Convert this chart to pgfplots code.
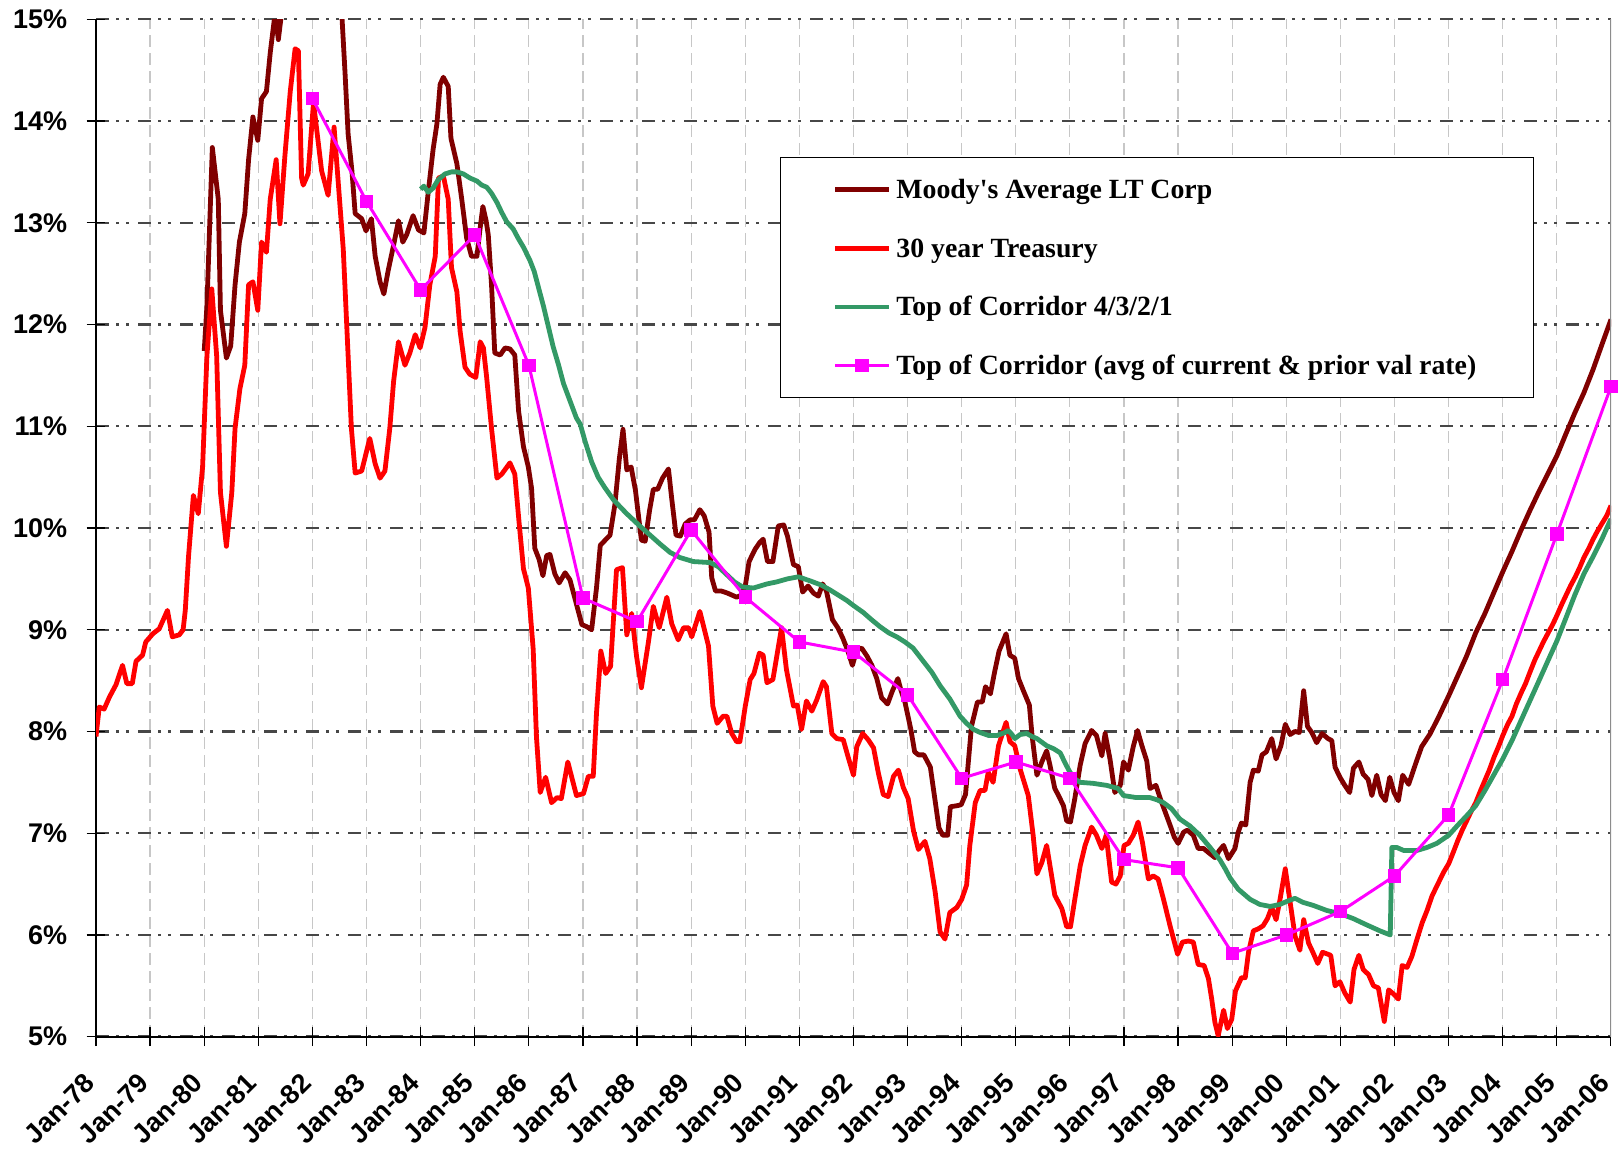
\documentclass[border=0pt]{standalone}
\usepackage{fontspec}
\setmainfont{Liberation Sans}
\newfontfamily\tnr{Liberation Serif}
\usepackage{pgfplots}
\pgfplotsset{compat=1.18}
\definecolor{moody}{RGB}{128,0,0}
\definecolor{treas}{RGB}{255,0,0}
\definecolor{corr}{RGB}{51,153,102}
\definecolor{mag}{RGB}{255,0,255}
\begin{document}
\begin{tikzpicture}
\path[use as bounding box] (-48pt,-56.15pt) rectangle (763.5pt,518.35pt);
\begin{axis}[
  at={(0pt,0pt)}, anchor=south west,
  width=757.5pt, height=508.7pt, scale only axis,
  xmin=1978, xmax=2006, ymin=5, ymax=15,
  axis x line*=bottom, axis y line*=left,
  axis line style={black, line width=1.1pt},
  xtick={1978,...,2006},
  xticklabels={Jan-78,Jan-79,Jan-80,Jan-81,Jan-82,Jan-83,Jan-84,Jan-85,Jan-86,Jan-87,Jan-88,Jan-89,Jan-90,Jan-91,Jan-92,Jan-93,Jan-94,Jan-95,Jan-96,Jan-97,Jan-98,Jan-99,Jan-00,Jan-01,Jan-02,Jan-03,Jan-04,Jan-05,Jan-06},
  ytick={5,...,15},
  yticklabels={5\%,6\%,7\%,8\%,9\%,10\%,11\%,12\%,13\%,14\%,15\%},
  tick align=center, major tick length=9.5pt,
  tick style={black, line width=0.6pt},
  tick label style={font=\bfseries\fontsize{13.5}{16}\selectfont},
  /pgf/number format/assume math mode=true,
  yticklabel style={anchor=east, inner sep=0pt, xshift=-9.5pt},
  xticklabel style={xshift=-3pt, yshift=-16pt, rotate=45, anchor=east, inner sep=0pt},
  grid=major,
  major x grid style={color=black!22, line width=0.6pt, dash pattern=on 6pt off 3pt},
  major y grid style={color=black!72, line width=1.2pt, dash pattern=on 6.5pt off 3.5pt on 1.5pt off 3.5pt on 1.5pt off 4.5pt},
  legend style={at={(0.4515,0.8647)}, anchor=north west, draw=black, line width=0.6pt, fill=white,
    inner xsep=26pt, inner ysep=9.5pt, row sep=16.1pt,
    font=\tnr\bfseries\fontsize{13.9}{16}\selectfont,
    nodes={inner xsep=2.5pt, inner ysep=0pt, text height=11pt, text depth=2.2pt}},
  legend cell align=left,
  legend image code/.code={\draw[mark repeat=2,mark phase=2,#1] plot coordinates {(0pt,0pt) (13.5pt,0pt) (27pt,0pt)};},
]
\addplot[moody, line width=2.4pt, line join=round] coordinates {
(1980.00,11.74)(1980.05,12.18)(1980.15,13.74)(1980.26,13.23)(1980.30,12.14)(1980.41,11.67)(1980.49,11.79)(1980.57,12.39)(1980.65,12.81)(1980.75,13.09)(1980.82,13.62)(1980.90,14.04)(1980.99,13.81)(1981.06,14.22)(1981.15,14.29)(1981.22,14.67)(1981.31,15.06)(1981.37,14.80)(1981.43,15.06)(1981.50,15.5)(1981.65,16.0)(1981.80,15.6)(1982.00,15.8)(1982.20,15.6)(1982.40,15.4)(1982.54,15.08)(1982.60,14.50)(1982.66,13.87)(1982.73,13.51)(1982.79,13.09)(1982.91,13.04)(1982.99,12.92)(1983.09,13.04)(1983.16,12.67)(1983.25,12.42)(1983.32,12.30)(1983.40,12.53)(1983.50,12.78)(1983.59,13.02)(1983.67,12.81)(1983.74,12.88)(1983.86,13.07)(1983.96,12.93)(1984.06,12.90)(1984.14,13.30)(1984.23,13.72)(1984.30,13.97)(1984.36,14.36)(1984.42,14.43)(1984.51,14.34)(1984.56,13.83)(1984.67,13.58)(1984.76,13.23)(1984.85,12.85)(1984.94,12.67)(1985.04,12.67)(1985.10,12.95)(1985.15,13.16)(1985.21,13.02)(1985.25,12.88)(1985.31,12.39)(1985.37,11.72)(1985.47,11.70)(1985.56,11.77)(1985.65,11.76)(1985.74,11.70)(1985.81,11.15)(1985.90,10.80)(1985.99,10.60)(1986.05,10.39)(1986.11,9.80)(1986.19,9.69)(1986.26,9.53)(1986.33,9.73)(1986.39,9.74)(1986.48,9.55)(1986.56,9.46)(1986.67,9.56)(1986.76,9.49)(1986.88,9.25)(1986.98,9.05)(1987.07,9.03)(1987.16,9.00)(1987.25,9.41)(1987.32,9.83)(1987.41,9.88)(1987.50,9.93)(1987.59,10.23)(1987.67,10.67)(1987.74,10.97)(1987.81,10.57)(1987.89,10.60)(1987.97,10.37)(1988.08,9.88)(1988.15,9.87)(1988.23,10.17)(1988.30,10.38)(1988.38,10.38)(1988.47,10.49)(1988.58,10.58)(1988.64,10.29)(1988.72,9.93)(1988.80,9.92)(1988.89,10.04)(1988.98,10.08)(1989.06,10.08)(1989.16,10.18)(1989.24,10.12)(1989.33,9.96)(1989.38,9.51)(1989.45,9.38)(1989.56,9.38)(1989.67,9.36)(1989.84,9.32)(1989.93,9.34)(1990.00,9.43)(1990.07,9.67)(1990.18,9.79)(1990.27,9.86)(1990.33,9.89)(1990.41,9.67)(1990.51,9.67)(1990.61,10.02)(1990.71,10.03)(1990.78,9.92)(1990.89,9.64)(1990.98,9.62)(1991.06,9.37)(1991.16,9.43)(1991.26,9.36)(1991.35,9.33)(1991.43,9.45)(1991.50,9.38)(1991.61,9.10)(1991.71,9.02)(1991.80,8.92)(1991.89,8.80)(1991.98,8.65)(1992.06,8.80)(1992.15,8.82)(1992.25,8.74)(1992.34,8.65)(1992.43,8.52)(1992.52,8.33)(1992.63,8.27)(1992.72,8.40)(1992.82,8.52)(1992.88,8.40)(1992.95,8.29)(1993.06,8.02)(1993.13,7.80)(1993.20,7.77)(1993.30,7.77)(1993.42,7.65)(1993.50,7.35)(1993.58,7.05)(1993.65,6.98)(1993.74,6.98)(1993.79,7.26)(1993.91,7.27)(1993.99,7.28)(1994.07,7.38)(1994.18,8.05)(1994.29,8.29)(1994.38,8.29)(1994.44,8.44)(1994.53,8.37)(1994.61,8.59)(1994.69,8.79)(1994.82,8.96)(1994.89,8.75)(1994.98,8.72)(1995.05,8.52)(1995.14,8.40)(1995.25,8.26)(1995.30,7.96)(1995.39,7.57)(1995.48,7.70)(1995.57,7.81)(1995.63,7.67)(1995.72,7.44)(1995.79,7.37)(1995.88,7.27)(1995.94,7.12)(1996.01,7.11)(1996.09,7.34)(1996.19,7.67)(1996.28,7.88)(1996.40,8.01)(1996.49,7.96)(1996.59,7.76)(1996.65,7.98)(1996.74,7.73)(1996.83,7.40)(1996.93,7.47)(1996.99,7.70)(1997.08,7.62)(1997.17,7.85)(1997.25,8.01)(1997.33,7.86)(1997.42,7.71)(1997.48,7.44)(1997.59,7.47)(1997.67,7.34)(1997.76,7.21)(1997.85,7.08)(1997.93,6.96)(1998.00,6.90)(1998.10,7.01)(1998.17,7.03)(1998.28,6.98)(1998.37,6.85)(1998.47,6.85)(1998.56,6.81)(1998.68,6.76)(1998.76,6.83)(1998.84,6.88)(1998.93,6.75)(1999.05,6.85)(1999.11,7.01)(1999.17,7.10)(1999.25,7.08)(1999.33,7.50)(1999.39,7.62)(1999.48,7.61)(1999.55,7.77)(1999.63,7.80)(1999.73,7.93)(1999.81,7.73)(1999.90,7.86)(1999.98,8.07)(2000.07,7.97)(2000.16,8.00)(2000.24,7.99)(2000.32,8.40)(2000.39,8.05)(2000.47,7.99)(2000.56,7.89)(2000.66,7.98)(2000.77,7.93)(2000.84,7.91)(2000.90,7.65)(2000.99,7.55)(2001.08,7.47)(2001.17,7.40)(2001.24,7.64)(2001.34,7.70)(2001.42,7.58)(2001.51,7.53)(2001.58,7.37)(2001.67,7.57)(2001.75,7.38)(2001.83,7.32)(2001.91,7.55)(2001.99,7.40)(2002.07,7.32)(2002.15,7.57)(2002.26,7.48)(2002.40,7.70)(2002.50,7.85)(2002.66,7.98)(2002.83,8.16)(2003.00,8.35)(2003.17,8.55)(2003.33,8.74)(2003.50,8.97)(2003.67,9.16)(2003.83,9.36)(2004.00,9.57)(2004.17,9.77)(2004.33,9.97)(2004.50,10.17)(2004.67,10.36)(2004.83,10.53)(2005.00,10.71)(2005.17,10.93)(2005.33,11.13)(2005.50,11.33)(2005.67,11.56)(2005.83,11.80)(2006.00,12.05)
};
\addlegendentry{Moody's Average LT Corp}
\addplot[treas, line width=2.4pt, line join=round] coordinates {
(1978.00,7.95)(1978.06,8.24)(1978.15,8.22)(1978.25,8.34)(1978.37,8.46)(1978.49,8.65)(1978.57,8.47)(1978.67,8.47)(1978.74,8.69)(1978.86,8.75)(1978.92,8.88)(1979.05,8.96)(1979.17,9.01)(1979.32,9.19)(1979.41,8.93)(1979.54,8.95)(1979.61,9.00)(1979.65,9.19)(1979.71,9.72)(1979.80,10.32)(1979.89,10.14)(1979.97,10.60)(1980.05,11.69)(1980.14,12.35)(1980.23,11.69)(1980.30,10.35)(1980.41,9.82)(1980.51,10.35)(1980.57,10.98)(1980.66,11.37)(1980.75,11.60)(1980.82,12.39)(1980.90,12.42)(1980.99,12.14)(1981.06,12.81)(1981.15,12.71)(1981.22,13.23)(1981.33,13.62)(1981.40,12.99)(1981.49,13.65)(1981.59,14.29)(1981.68,14.71)(1981.74,14.69)(1981.80,13.44)(1981.83,13.37)(1981.92,13.48)(1982.02,14.18)(1982.17,13.51)(1982.29,13.27)(1982.40,13.94)(1982.57,12.74)(1982.66,11.69)(1982.72,10.98)(1982.79,10.54)(1982.91,10.56)(1983.06,10.88)(1983.16,10.63)(1983.25,10.49)(1983.34,10.56)(1983.43,10.98)(1983.50,11.44)(1983.59,11.83)(1983.71,11.60)(1983.80,11.72)(1983.90,11.90)(1983.99,11.77)(1984.08,11.97)(1984.17,12.39)(1984.27,12.67)(1984.33,13.44)(1984.42,13.46)(1984.51,13.23)(1984.57,12.56)(1984.67,12.32)(1984.73,11.93)(1984.82,11.58)(1984.91,11.51)(1985.02,11.48)(1985.10,11.83)(1985.16,11.77)(1985.22,11.48)(1985.31,10.98)(1985.41,10.49)(1985.50,10.53)(1985.65,10.64)(1985.74,10.53)(1985.82,10.05)(1985.90,9.60)(1985.99,9.41)(1986.08,8.81)(1986.14,7.95)(1986.21,7.40)(1986.31,7.55)(1986.42,7.30)(1986.52,7.35)(1986.60,7.34)(1986.72,7.70)(1986.88,7.37)(1987.01,7.39)(1987.10,7.56)(1987.19,7.56)(1987.25,8.18)(1987.33,8.79)(1987.42,8.57)(1987.51,8.64)(1987.62,9.59)(1987.73,9.61)(1987.81,8.95)(1987.90,9.16)(1987.99,8.74)(1988.08,8.43)(1988.21,8.88)(1988.30,9.23)(1988.41,9.02)(1988.55,9.32)(1988.64,9.06)(1988.76,8.90)(1988.86,9.02)(1988.95,9.02)(1989.01,8.93)(1989.16,9.18)(1989.32,8.84)(1989.40,8.25)(1989.48,8.08)(1989.59,8.15)(1989.66,8.15)(1989.75,7.98)(1989.84,7.90)(1989.90,7.90)(1990.00,8.25)(1990.09,8.51)(1990.16,8.57)(1990.26,8.77)(1990.33,8.75)(1990.40,8.48)(1990.51,8.51)(1990.67,9.02)(1990.76,8.61)(1990.89,8.25)(1990.96,8.26)(1991.04,8.02)(1991.13,8.30)(1991.23,8.20)(1991.32,8.31)(1991.44,8.49)(1991.50,8.44)(1991.60,7.98)(1991.69,7.93)(1991.81,7.92)(1991.90,7.75)(1992.00,7.57)(1992.06,7.85)(1992.17,7.98)(1992.27,7.92)(1992.37,7.84)(1992.46,7.59)(1992.55,7.38)(1992.64,7.36)(1992.74,7.56)(1992.83,7.62)(1992.92,7.45)(1993.01,7.34)(1993.11,7.02)(1993.20,6.84)(1993.32,6.92)(1993.41,6.75)(1993.51,6.42)(1993.60,6.03)(1993.69,5.96)(1993.78,6.22)(1993.91,6.27)(1994.00,6.35)(1994.09,6.49)(1994.15,6.88)(1994.25,7.30)(1994.34,7.42)(1994.43,7.42)(1994.49,7.60)(1994.58,7.50)(1994.68,7.86)(1994.82,8.09)(1994.89,7.90)(1994.98,7.86)(1995.08,7.63)(1995.23,7.37)(1995.32,6.98)(1995.39,6.60)(1995.48,6.71)(1995.57,6.88)(1995.72,6.39)(1995.85,6.26)(1995.94,6.08)(1996.01,6.08)(1996.09,6.35)(1996.19,6.68)(1996.28,6.88)(1996.40,7.06)(1996.49,6.98)(1996.59,6.85)(1996.67,6.98)(1996.77,6.52)(1996.85,6.50)(1996.93,6.58)(1997.00,6.88)(1997.08,6.90)(1997.17,6.98)(1997.26,7.11)(1997.34,6.91)(1997.45,6.55)(1997.54,6.58)(1997.63,6.55)(1997.73,6.35)(1997.85,6.09)(1997.99,5.81)(1998.08,5.93)(1998.19,5.94)(1998.28,5.93)(1998.37,5.71)(1998.48,5.70)(1998.56,5.57)(1998.62,5.37)(1998.68,5.14)(1998.74,5.01)(1998.84,5.26)(1998.91,5.08)(1998.99,5.17)(1999.06,5.45)(1999.17,5.58)(1999.24,5.58)(1999.30,5.83)(1999.39,6.04)(1999.48,6.06)(1999.57,6.09)(1999.65,6.16)(1999.73,6.27)(1999.81,6.15)(1999.88,6.34)(1999.98,6.65)(2000.07,6.32)(2000.16,5.99)(2000.25,5.85)(2000.32,6.15)(2000.41,5.92)(2000.49,5.83)(2000.58,5.72)(2000.67,5.83)(2000.82,5.80)(2000.90,5.50)(2000.99,5.54)(2001.08,5.43)(2001.18,5.34)(2001.25,5.66)(2001.34,5.80)(2001.42,5.66)(2001.52,5.61)(2001.61,5.50)(2001.70,5.48)(2001.81,5.15)(2001.89,5.46)(2001.98,5.42)(2002.07,5.37)(2002.14,5.70)(2002.23,5.68)(2002.32,5.79)(2002.41,5.95)(2002.51,6.12)(2002.60,6.24)(2002.69,6.38)(2002.78,6.48)(2002.91,6.62)(2003.00,6.70)(2003.09,6.82)(2003.17,6.93)(2003.25,7.03)(2003.34,7.13)(2003.42,7.22)(2003.50,7.30)(2003.59,7.42)(2003.67,7.52)(2003.75,7.62)(2003.84,7.75)(2003.92,7.85)(2004.00,7.96)(2004.09,8.07)(2004.17,8.15)(2004.25,8.27)(2004.34,8.38)(2004.42,8.47)(2004.50,8.58)(2004.59,8.70)(2004.67,8.79)(2004.75,8.88)(2004.84,8.97)(2004.92,9.05)(2005.00,9.14)(2005.09,9.25)(2005.17,9.34)(2005.25,9.43)(2005.34,9.52)(2005.42,9.61)(2005.50,9.71)(2005.59,9.80)(2005.67,9.89)(2005.75,9.97)(2005.84,10.05)(2005.92,10.12)(2006.00,10.22)
};
\addlegendentry{30 year Treasury}
\addplot[corr, line width=2.4pt, line join=round] coordinates {
(1984.00,13.33)(1984.06,13.36)(1984.14,13.30)(1984.23,13.34)(1984.32,13.42)(1984.45,13.48)(1984.57,13.50)(1984.67,13.50)(1984.79,13.48)(1984.91,13.44)(1985.04,13.41)(1985.13,13.37)(1985.22,13.35)(1985.31,13.29)(1985.41,13.20)(1985.50,13.10)(1985.59,13.01)(1985.71,12.94)(1985.80,12.85)(1985.90,12.76)(1986.02,12.63)(1986.10,12.52)(1986.18,12.36)(1986.27,12.18)(1986.36,11.98)(1986.45,11.78)(1986.55,11.60)(1986.64,11.42)(1986.76,11.25)(1986.88,11.08)(1986.95,11.02)(1987.04,10.85)(1987.16,10.65)(1987.28,10.50)(1987.40,10.40)(1987.56,10.28)(1987.70,10.20)(1987.81,10.14)(1987.93,10.08)(1988.05,10.02)(1988.24,9.93)(1988.43,9.84)(1988.61,9.76)(1988.79,9.71)(1989.04,9.67)(1989.35,9.66)(1989.50,9.62)(1989.66,9.54)(1989.80,9.47)(1989.95,9.42)(1990.15,9.41)(1990.40,9.45)(1990.58,9.47)(1990.78,9.50)(1990.98,9.52)(1991.20,9.48)(1991.40,9.44)(1991.57,9.39)(1991.72,9.34)(1991.87,9.29)(1992.02,9.23)(1992.18,9.17)(1992.33,9.10)(1992.49,9.03)(1992.65,8.97)(1992.80,8.93)(1992.95,8.88)(1993.10,8.82)(1993.29,8.69)(1993.45,8.58)(1993.60,8.45)(1993.78,8.32)(1993.97,8.15)(1994.09,8.08)(1994.22,8.02)(1994.34,7.99)(1994.50,7.96)(1994.65,7.96)(1994.80,7.99)(1994.86,8.01)(1994.93,7.97)(1994.98,7.93)(1995.08,7.97)(1995.20,7.98)(1995.30,7.95)(1995.39,7.93)(1995.57,7.86)(1995.70,7.83)(1995.82,7.79)(1995.92,7.68)(1996.00,7.60)(1996.10,7.53)(1996.19,7.50)(1996.43,7.49)(1996.68,7.47)(1996.89,7.44)(1996.99,7.37)(1997.23,7.35)(1997.48,7.35)(1997.60,7.33)(1997.73,7.30)(1997.88,7.24)(1998.03,7.14)(1998.22,7.07)(1998.40,6.98)(1998.59,6.86)(1998.77,6.74)(1998.87,6.65)(1998.96,6.56)(1999.11,6.45)(1999.33,6.35)(1999.51,6.30)(1999.70,6.28)(1999.88,6.30)(2000.01,6.33)(2000.16,6.36)(2000.31,6.32)(2000.50,6.29)(2000.75,6.24)(2000.99,6.21)(2001.24,6.16)(2001.48,6.10)(2001.73,6.04)(2001.92,6.00)(2001.95,6.86)(2002.04,6.86)(2002.17,6.83)(2002.41,6.83)(2002.60,6.86)(2002.78,6.90)(2003.00,6.98)(2003.17,7.08)(2003.33,7.17)(2003.50,7.27)(2003.67,7.42)(2003.83,7.57)(2004.00,7.73)(2004.17,7.91)(2004.33,8.10)(2004.50,8.30)(2004.67,8.50)(2004.83,8.69)(2005.00,8.89)(2005.17,9.12)(2005.33,9.34)(2005.50,9.55)(2005.67,9.72)(2005.83,9.89)(2006.00,10.09)
};
\addlegendentry{Top of Corridor 4/3/2/1}
\addplot[mag, line width=1.5pt, mark=square*, mark size=2.6pt, mark options={solid, fill=mag, draw=mag}] coordinates {
(1982,14.22)(1983,13.21)(1984,12.34)(1985,12.88)(1986,11.60)(1987,9.31)(1988,9.08)(1989,9.98)(1990,9.32)(1991,8.88)(1992,8.78)(1993,8.36)(1994,7.54)(1995,7.70)(1996,7.54)(1997,6.74)(1998,6.66)(1999,5.82)(2000,6.00)(2001,6.23)(2002,6.58)(2003,7.18)(2004,8.51)(2005,9.94)(2006,11.39)
};
\addlegendentry{Top of Corridor (avg of current \& prior val rate)}
\draw[black!45, line width=1pt] (rel axis cs:1,0) -- (rel axis cs:1,1);
\end{axis}
\end{tikzpicture}
\end{document}
